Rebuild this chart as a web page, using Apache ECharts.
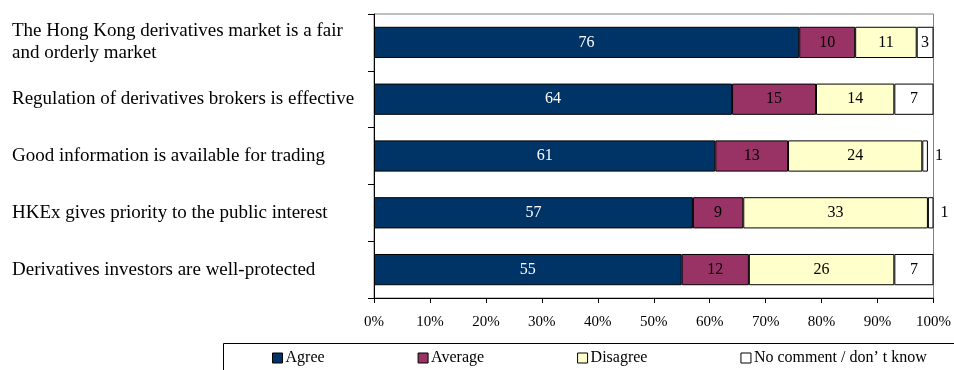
<!DOCTYPE html>
<html>
<head>
<meta charset="utf-8">
<script src="https://cdn.jsdelivr.net/npm/echarts@6/dist/echarts.min.js"></script>
<style>
  html, body { margin: 0; padding: 0; background: #fff; }
  #chart { width: 954px; height: 370px; }
</style>
</head>
<body>
<div id="chart"></div>
<script>
// Survey statements (top to bottom)
const categories = [
  'The Hong Kong derivatives market is a fair\nand orderly market',
  'Regulation of derivatives brokers is effective',
  'Good information is available for trading',
  'HKEx gives priority to the public interest',
  'Derivatives investors are well-protected'
];
// Percentage of respondents per answer
const agree     = [76, 64, 61, 57, 55];
const average   = [10, 15, 13, 9, 12];
const disagree  = [11, 14, 24, 33, 26];
const noComment = [3, 7, 1, 1, 7];
const xTicks = [0, 10, 20, 30, 40, 50, 60, 70, 80, 90, 100];
const seriesNames = ['Agree', 'Average', 'Disagree', 'No comment / don\u2019 t know'];

const FONT = '"Liberation Serif", "Times New Roman", serif';

function makeSeries(name, values, fill, labelColor) {
  return {
    name: name,
    type: 'bar',
    stack: 'total',
    barWidth: '55%',
    itemStyle: { color: fill, borderColor: '#000', borderWidth: 1 },
    label: {
      show: true,
      position: 'inside',
      color: labelColor,
      fontFamily: FONT,
      fontSize: 16
    },
    // tiny segments get their label outside the bar end
    data: values.map(v => v <= 1
      ? { value: v, label: { position: 'right', distance: 7, color: '#000' } }
      : v)
  };
}

const chart = echarts.init(document.getElementById('chart'), null, { renderer: 'canvas' });
chart.setOption({
  animation: false,
  backgroundColor: '#fff',
  textStyle: { fontFamily: FONT },
  grid: {
    left: 374, right: 16, top: 14, bottom: 72,
    show: true, borderColor: '#808080', borderWidth: 1, backgroundColor: 'transparent'
  },
  // frame around the legend, running off the right and bottom edges
  graphic: [{
    type: 'rect',
    shape: { x: 223.5, y: 343.5, width: 800, height: 60 },
    style: { fill: 'none', stroke: '#000', lineWidth: 1 },
    silent: true
  }],
  xAxis: {
    type: 'value',
    min: xTicks[0],
    max: xTicks[xTicks.length - 1],
    interval: 10,
    splitLine: { show: false },
    axisLine: { show: true, lineStyle: { color: '#000', width: 1 } },
    axisTick: { show: true, length: 5, lineStyle: { color: '#000' } },
    axisLabel: {
      formatter: '{value}%',
      color: '#000',
      fontFamily: FONT,
      fontSize: 15,
      margin: 17
    }
  },
  yAxis: {
    type: 'category',
    inverse: true,
    data: categories,
    axisLine: { show: true, lineStyle: { color: '#000', width: 1 } },
    axisTick: { show: true, length: 6, lineStyle: { color: '#000' } },
    axisLabel: {
      align: 'left',
      margin: 362,
      color: '#000',
      fontFamily: FONT,
      fontSize: 19,
      lineHeight: 22
    }
  },
  legend: {
    left: 272,
    top: 350,
    orient: 'horizontal',
    icon: 'rect',
    itemWidth: 10,
    itemHeight: 10,
    itemGap: 93,
    padding: 0,
    itemStyle: { borderColor: '#000', borderWidth: 1 },
    textStyle: { color: '#000', fontFamily: FONT, fontSize: 16, padding: [0, 0, 0, -2] },
    data: seriesNames
  },
  series: [
    makeSeries(seriesNames[0], agree, '#003366', '#fff'),
    makeSeries(seriesNames[1], average, '#993366', '#000'),
    makeSeries(seriesNames[2], disagree, '#FFFFCC', '#000'),
    makeSeries(seriesNames[3], noComment, '#FFFFFF', '#000')
  ]
});
</script>
</body>
</html>
